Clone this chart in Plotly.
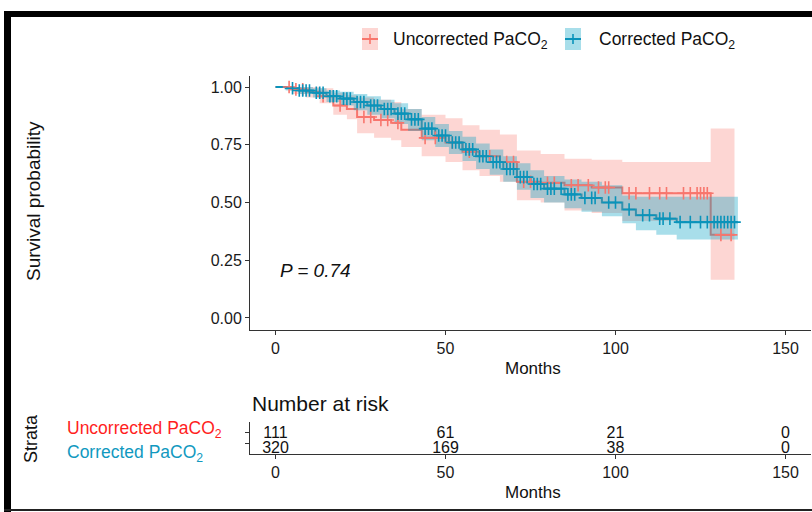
import numpy as np
import plotly.graph_objects as go

W, H = 812, 512

# ---------------- data ----------------
group_names = ["Uncorrected PaCO<sub>2</sub>", "Corrected PaCO<sub>2</sub>"]

time_u = [0, 5, 9, 13, 17, 21, 24, 29, 34, 37, 43, 50, 55, 60, 66, 71, 78, 85, 93, 102, 128, 135]
surv_u = [1.0, 0.99, 0.98, 0.96, 0.92, 0.905, 0.87, 0.857, 0.845, 0.815, 0.78, 0.76, 0.72, 0.70,
          0.675, 0.59, 0.585, 0.575, 0.565, 0.54, 0.36, 0.36]
upper_u = [1.0, 1.0, 1.0, 0.995, 0.975, 0.965, 0.955, 0.945, 0.935, 0.905, 0.88, 0.865, 0.835, 0.815,
           0.795, 0.725, 0.71, 0.69, 0.685, 0.675, 0.82, 0.82]
lower_u = [1.0, 0.97, 0.955, 0.93, 0.88, 0.86, 0.80, 0.78, 0.77, 0.74, 0.70, 0.675, 0.64, 0.615,
           0.59, 0.51, 0.50, 0.465, 0.455, 0.42, 0.165, 0.165]
censor_u = [4, 6, 8, 14, 19, 26, 28, 31, 33, 36, 44, 47, 52, 57, 63, 68, 70, 73, 75, 80, 82, 87, 89,
            92, 95, 97, 98, 104, 106, 110, 113, 115, 120, 122, 124, 125, 126, 127, 131, 134]

time_c = [0, 3, 7, 11, 15, 19, 23, 27, 31, 35, 39, 43, 47, 51, 55, 59, 63, 67, 71, 75, 79, 85, 90,
          96, 102, 106, 112, 118, 136]
surv_c = [1.0, 0.995, 0.985, 0.975, 0.96, 0.95, 0.935, 0.92, 0.905, 0.885, 0.86, 0.82, 0.79, 0.76,
          0.73, 0.70, 0.675, 0.645, 0.61, 0.58, 0.56, 0.535, 0.52, 0.50, 0.47, 0.445, 0.43, 0.415, 0.415]
upper_c = [1.0, 1.0, 1.0, 0.995, 0.985, 0.98, 0.97, 0.96, 0.945, 0.93, 0.905, 0.87, 0.84, 0.81,
           0.785, 0.755, 0.73, 0.70, 0.67, 0.64, 0.615, 0.60, 0.59, 0.575, 0.53, 0.525, 0.525, 0.525, 0.525]
lower_c = [1.0, 0.985, 0.97, 0.955, 0.935, 0.92, 0.90, 0.88, 0.865, 0.84, 0.81, 0.77, 0.74, 0.71,
           0.68, 0.645, 0.62, 0.59, 0.555, 0.52, 0.50, 0.475, 0.46, 0.44, 0.41, 0.38, 0.36, 0.34, 0.34]
censor_c = [5, 7, 8, 9, 10, 12, 13, 14, 16, 17, 18, 20, 21, 22, 24, 25, 26, 28, 29, 30, 32, 33, 34,
            36, 37, 38, 40, 41, 42, 44, 45, 46, 48, 49, 50, 52, 53, 54, 56, 57, 58, 60, 61, 62, 64,
            65, 66, 68, 69, 70, 72, 73, 74, 76, 77, 78, 80, 81, 82, 84, 86, 87, 88, 91, 93, 94, 98,
            100, 104, 108, 110, 113, 114, 116, 119, 122, 125, 127, 129, 130, 131, 132, 133, 134, 135]

risk_times = [0, 50, 100, 150]
risk_u = [111, 61, 21, 0]
risk_c = [320, 169, 38, 0]

x_ticks = [0, 50, 100, 150]
y_ticks = [0, 0.25, 0.5, 0.75, 1.0]
y_ticklabels = ["0.00", "0.25", "0.50", "0.75", "1.00"]
p_text = "P = 0.74"

# ---------------- styling ----------------
RED = "#F8766D"
BLUE = "#0A93BA"
RED_FILL = "rgba(248,118,109,0.30)"
BLUE_FILL = "rgba(0,158,192,0.34)"
FONT = "Liberation Sans, Arial, sans-serif"
AX = "#333333"


def px_x(x):
    return x / W


def px_y(y):
    return 1 - y / H


def step_at(times, surv, t):
    idx = np.searchsorted(np.asarray(times), t, side="right") - 1
    return np.asarray(surv)[idx]


fig = go.Figure()

groups = [
    (time_u, surv_u, upper_u, lower_u, censor_u, RED, RED_FILL),
    (time_c, surv_c, upper_c, lower_c, censor_c, BLUE, BLUE_FILL),
]

# lines
for t, s, hi, lo, cen, col, fcol in groups:
    fig.add_trace(go.Scatter(x=t, y=s, mode="lines", line=dict(color=col, width=2, shape="hv"),
                             showlegend=False, hoverinfo="skip"))
# ribbons
for t, s, hi, lo, cen, col, fcol in groups:
    fig.add_trace(go.Scatter(x=t, y=hi, mode="lines", line=dict(width=0, shape="hv"),
                             showlegend=False, hoverinfo="skip"))
    fig.add_trace(go.Scatter(x=t, y=lo, mode="lines", line=dict(width=0, shape="hv"),
                             fill="tonexty", fillcolor=fcol, showlegend=False, hoverinfo="skip"))
# censor marks
for t, s, hi, lo, cen, col, fcol in groups:
    fig.add_trace(go.Scatter(x=cen, y=step_at(t, s, cen), mode="markers",
                             marker=dict(symbol="cross-thin", size=9, color=col,
                                         line=dict(width=1.6, color=col)),
                             showlegend=False, hoverinfo="skip"))

# risk table
fig.add_trace(go.Scatter(x=risk_times, y=[2] * len(risk_times), mode="text",
                         text=[str(v) for v in risk_u], textposition="middle center",
                         textfont=dict(family=FONT, size=16, color="#111111"),
                         xaxis="x2", yaxis="y2", showlegend=False, hoverinfo="skip"))
fig.add_trace(go.Scatter(x=risk_times, y=[1] * len(risk_times), mode="text",
                         text=[str(v) for v in risk_c], textposition="middle center",
                         textfont=dict(family=FONT, size=16, color="#111111"),
                         xaxis="x2", yaxis="y2", showlegend=False, hoverinfo="skip"))

x_dom = [px_x(250), px_x(811)]
x_range = [-7.5, 157.5]
axis_common = dict(showline=True, linecolor=AX, linewidth=1, ticks="outside", ticklen=4,
                   tickcolor=AX, tickwidth=1, showgrid=False, zeroline=False,
                   tickfont=dict(family=FONT, size=16, color="#1a1a1a"))

fig.update_layout(
    width=W, height=H, autosize=False,
    margin=dict(l=0, r=0, t=0, b=0),
    paper_bgcolor="white", plot_bgcolor="rgba(0,0,0,0)",
    font=dict(family=FONT, color="#111111"),
    xaxis=dict(domain=x_dom, range=x_range, tickvals=x_ticks, anchor="y", **axis_common),
    yaxis=dict(domain=[px_y(329.5), px_y(75.5)], range=[-0.05, 1.05], tickvals=y_ticks,
               ticktext=y_ticklabels, anchor="x", **axis_common),
    xaxis2=dict(domain=x_dom, range=x_range, tickvals=x_ticks, anchor="y2", **axis_common),
    yaxis2=dict(domain=[px_y(454), px_y(422)], range=[0.65, 2.85], tickvals=[1.34, 2.16],
                showticklabels=False, anchor="x2",
                **{k: v for k, v in axis_common.items() if k != "tickfont"}),
    showlegend=False,
)

ann = []


def add_text(text, x, y, size, color="#111111", xanchor="center", angle=0, italic=False):
    if italic:
        text = "<i>" + text + "</i>"
    ann.append(dict(text=text, x=px_x(x), y=px_y(y), xref="paper", yref="paper",
                    xanchor=xanchor, yanchor="middle", showarrow=False, textangle=angle,
                    font=dict(family=FONT, size=size, color=color)))


add_text("Survival probability", 33, 201, 19, angle=-90)
add_text("Months", 533, 368, 17)
add_text(p_text, 278, 270, 19, xanchor="left", italic=True)
add_text("Number at risk", 250, 403, 21, xanchor="left")
add_text("Strata", 31, 439, 18, angle=-90)
add_text(group_names[0], 65, 429, 17.5, color="#FF1E1E", xanchor="left")
add_text(group_names[1], 65, 453, 17.5, color="#1199BF", xanchor="left")
add_text("Months", 533, 492, 17)
# legend text
add_text(group_names[0], 391, 40, 17.5, xanchor="left")
add_text(group_names[1], 597, 40, 17.5, xanchor="left")
fig.update_layout(annotations=ann)

shapes = []
# frame
shapes.append(dict(type="rect", xref="paper", yref="paper", x0=px_x(4), x1=px_x(11),
                   y0=px_y(512), y1=px_y(11), fillcolor="black", line=dict(width=0)))
shapes.append(dict(type="rect", xref="paper", yref="paper", x0=px_x(4), x1=px_x(812),
                   y0=px_y(17), y1=px_y(11), fillcolor="black", line=dict(width=0)))
shapes.append(dict(type="rect", xref="paper", yref="paper", x0=px_x(4), x1=px_x(812),
                   y0=px_y(511), y1=px_y(509), fillcolor="#222222", line=dict(width=0)))
# legend keys
for x0, col, fcol in [(362, RED, RED_FILL), (565, BLUE, BLUE_FILL)]:
    shapes.append(dict(type="rect", xref="paper", yref="paper", x0=px_x(x0), x1=px_x(x0 + 16),
                       y0=px_y(50), y1=px_y(28), fillcolor=fcol, line=dict(width=0)))
    shapes.append(dict(type="line", xref="paper", yref="paper", x0=px_x(x0), x1=px_x(x0 + 16),
                       y0=px_y(39), y1=px_y(39), line=dict(color=col, width=2)))
    shapes.append(dict(type="line", xref="paper", yref="paper", x0=px_x(x0 + 8), x1=px_x(x0 + 8),
                       y0=px_y(44), y1=px_y(34), line=dict(color=col, width=1.6)))
fig.update_layout(shapes=shapes)

fig.write_html("out.html", config={"displayModeBar": False},
               post_script="document.body.style.margin='0';document.body.style.overflow='hidden';")
